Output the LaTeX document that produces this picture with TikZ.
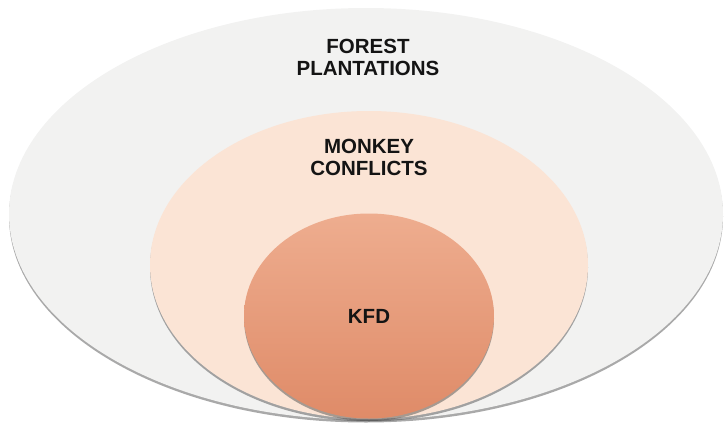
\documentclass[tikz,border=0pt]{standalone}
\usepackage{fontspec}
\setmainfont{Liberation Sans}
\usetikzlibrary{positioning,shapes.geometric,shadows}
\definecolor{forestgrey}{HTML}{F2F2F1}
\definecolor{monkeypeach}{HTML}{FBE4D5}
\definecolor{kfdtop}{HTML}{EEAD8F}
\definecolor{kfdbot}{HTML}{DF8B68}
\tikzset{
  fig/.style={font=\bfseries\fontsize{20.5}{22.5}\selectfont},
  ring/.style={ellipse,inner sep=0pt,draw=none,
               drop shadow={shadow xshift=0pt,shadow yshift=-2.5pt,opacity=0.45,fill=black!75}},
  lbl/.style={align=center,inner sep=1pt,text=black!92},
}

\begin{document}
\begin{tikzpicture}[fig,x=1pt,y=-1pt]
\useasboundingbox (0,0) rectangle (725,423);

\node[ring,fill=forestgrey,minimum width=714pt,minimum height=412pt] (forest) at (366,214) {};
\node[ring,fill=monkeypeach,minimum width=438pt,minimum height=308pt] (monkey) at (369,265) {};
\node[ring,top color=kfdtop,bottom color=kfdbot,minimum width=250pt,minimum height=205pt] (kfd) at (369,316) {};

\node[lbl] (forestlbl) at (368,57.5) {FOREST\\PLANTATIONS};
\node[lbl] (monkeylbl) at (369,157.5) {MONKEY\\CONFLICTS};
\node[lbl] (kfdlbl) at (kfd) {KFD};

\end{tikzpicture}
\end{document}
